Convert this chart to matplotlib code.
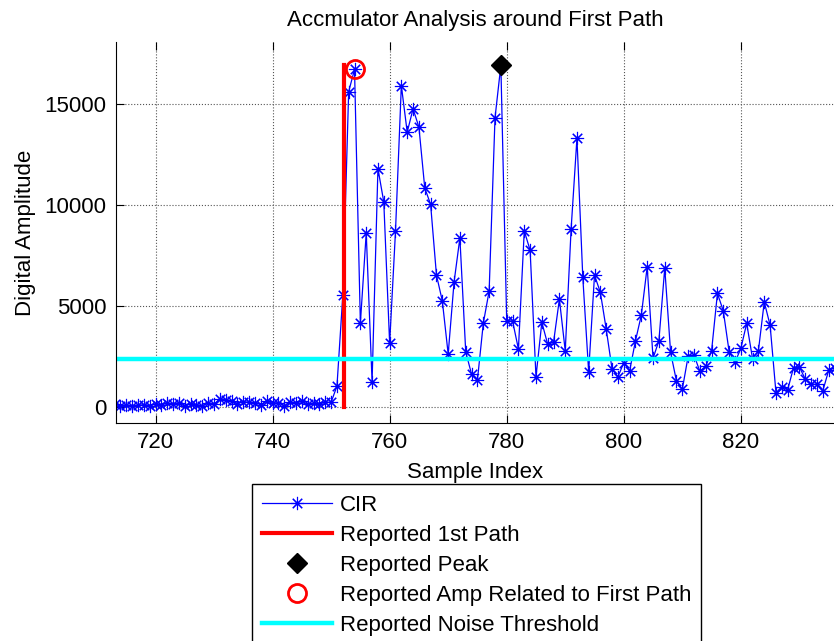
import numpy as np
import matplotlib.pyplot as plt

plt.rcParams['font.family'] = ['Liberation Sans', 'DejaVu Sans']

# CIR magnitude read per sample index (713..836)
sample_idx = np.arange(713, 837)
cir_amp = [
    150, 80, 120, 60, 100, 130, 90, 150, 120, 200,
    160, 230, 50, 180, 120, 80, 200, 150, 420, 380,
    300, 180, 280, 250, 220, 130, 320, 200, 230, 70,
    250, 200, 300, 150, 200, 160, 250, 250, 1050,      # 713-751
    5540, 15600, 16700, 4150, 8620, 1260, 11800, 10150, 3160, 8700,   # 752-761
    15900, 13600, 14750, 13850, 10840, 10030, 6530, 5260, 2630, 6170,  # 762-771
    8370, 2740, 1630, 1350, 4150, 5750, 14300, 16900, 4270, 4270,      # 772-781
    2880, 8720, 7760, 1510, 4200, 3120, 3210, 5345, 2790, 8800,        # 782-791
    13300, 6420, 1760, 6530, 5680, 3865, 1890, 1510, 2200, 1800,       # 792-801
    3290, 4560, 6940, 2420, 3290, 6890, 2715, 1300, 890, 2530,         # 802-811
    2580, 1780, 2020, 2790, 5630, 4770, 2744, 2230, 2910, 4150,        # 812-821
    2400, 2794, 5210, 4050, 720, 1017, 870, 1960, 1990, 1400,          # 822-831
    1140, 1140, 810, 1820, 1950,                                       # 832-836
]

first_path_idx = 752.25
first_path_amp = 16900
peak_idx = 779
peak_amp = 16900
fp_amp_idx = 754
fp_amp = 16700
noise_threshold = 2380

W, H = 834, 641
fig = plt.figure(figsize=(W / 100, H / 100), dpi=100)
ax = fig.add_axes([115.7 / W, 218.3 / H, (834.5 - 115.7) / W, (598.7 - 218.3) / H])

ax.plot(sample_idx, cir_amp, color='blue', linewidth=0.9,
        marker=(8, 2, 0), markersize=9.5, markeredgewidth=0.8, label='CIR')
ax.plot([first_path_idx, first_path_idx], [0, first_path_amp], color='red',
        linewidth=3, label='Reported 1st Path')
ax.plot([peak_idx], [peak_amp], linestyle='none', marker='D', markersize=10.5,
        color='black', label='Reported Peak')
ax.plot([fp_amp_idx], [fp_amp], linestyle='none', marker='o', markersize=13,
        markerfacecolor='none', markeredgecolor='red', markeredgewidth=2,
        label='Reported Amp Related to First Path')
ax.axhline(noise_threshold, color='cyan', linewidth=3.2,
           label='Reported Noise Threshold')

ax.set_xlim(713.2, 836.0)
ax.set_ylim(-760, 18040)
ax.set_xticks(np.arange(720, 821, 20))
ax.set_yticks([0, 5000, 10000, 15000])

ax.grid(True, color='#555555', linestyle=':', linewidth=0.8)
ax.set_axisbelow(True)
ax.spines['top'].set_visible(False)
ax.spines['right'].set_visible(False)
ax.tick_params(direction='in', length=6, top=True, labelsize=16, pad=6.5)

ax.set_title('Accmulator Analysis around First Path', fontsize=16, pad=11.5)
ax.set_xlabel('Sample Index', fontsize=16, labelpad=7)
ax.set_ylabel('Digital Amplitude', fontsize=16, labelpad=6)

leg = fig.legend(loc='upper left', bbox_to_anchor=(251.5 / W, 1 - 484.3 / H),
                 borderaxespad=0, fontsize=16, numpoints=1, handlelength=3.15,
                 handletextpad=0.34, labelspacing=0.41, borderpad=0.47,
                 fancybox=False, framealpha=1, edgecolor='black')
leg.get_frame().set_linewidth(1.0)

fig.savefig('out.png', dpi=100)
